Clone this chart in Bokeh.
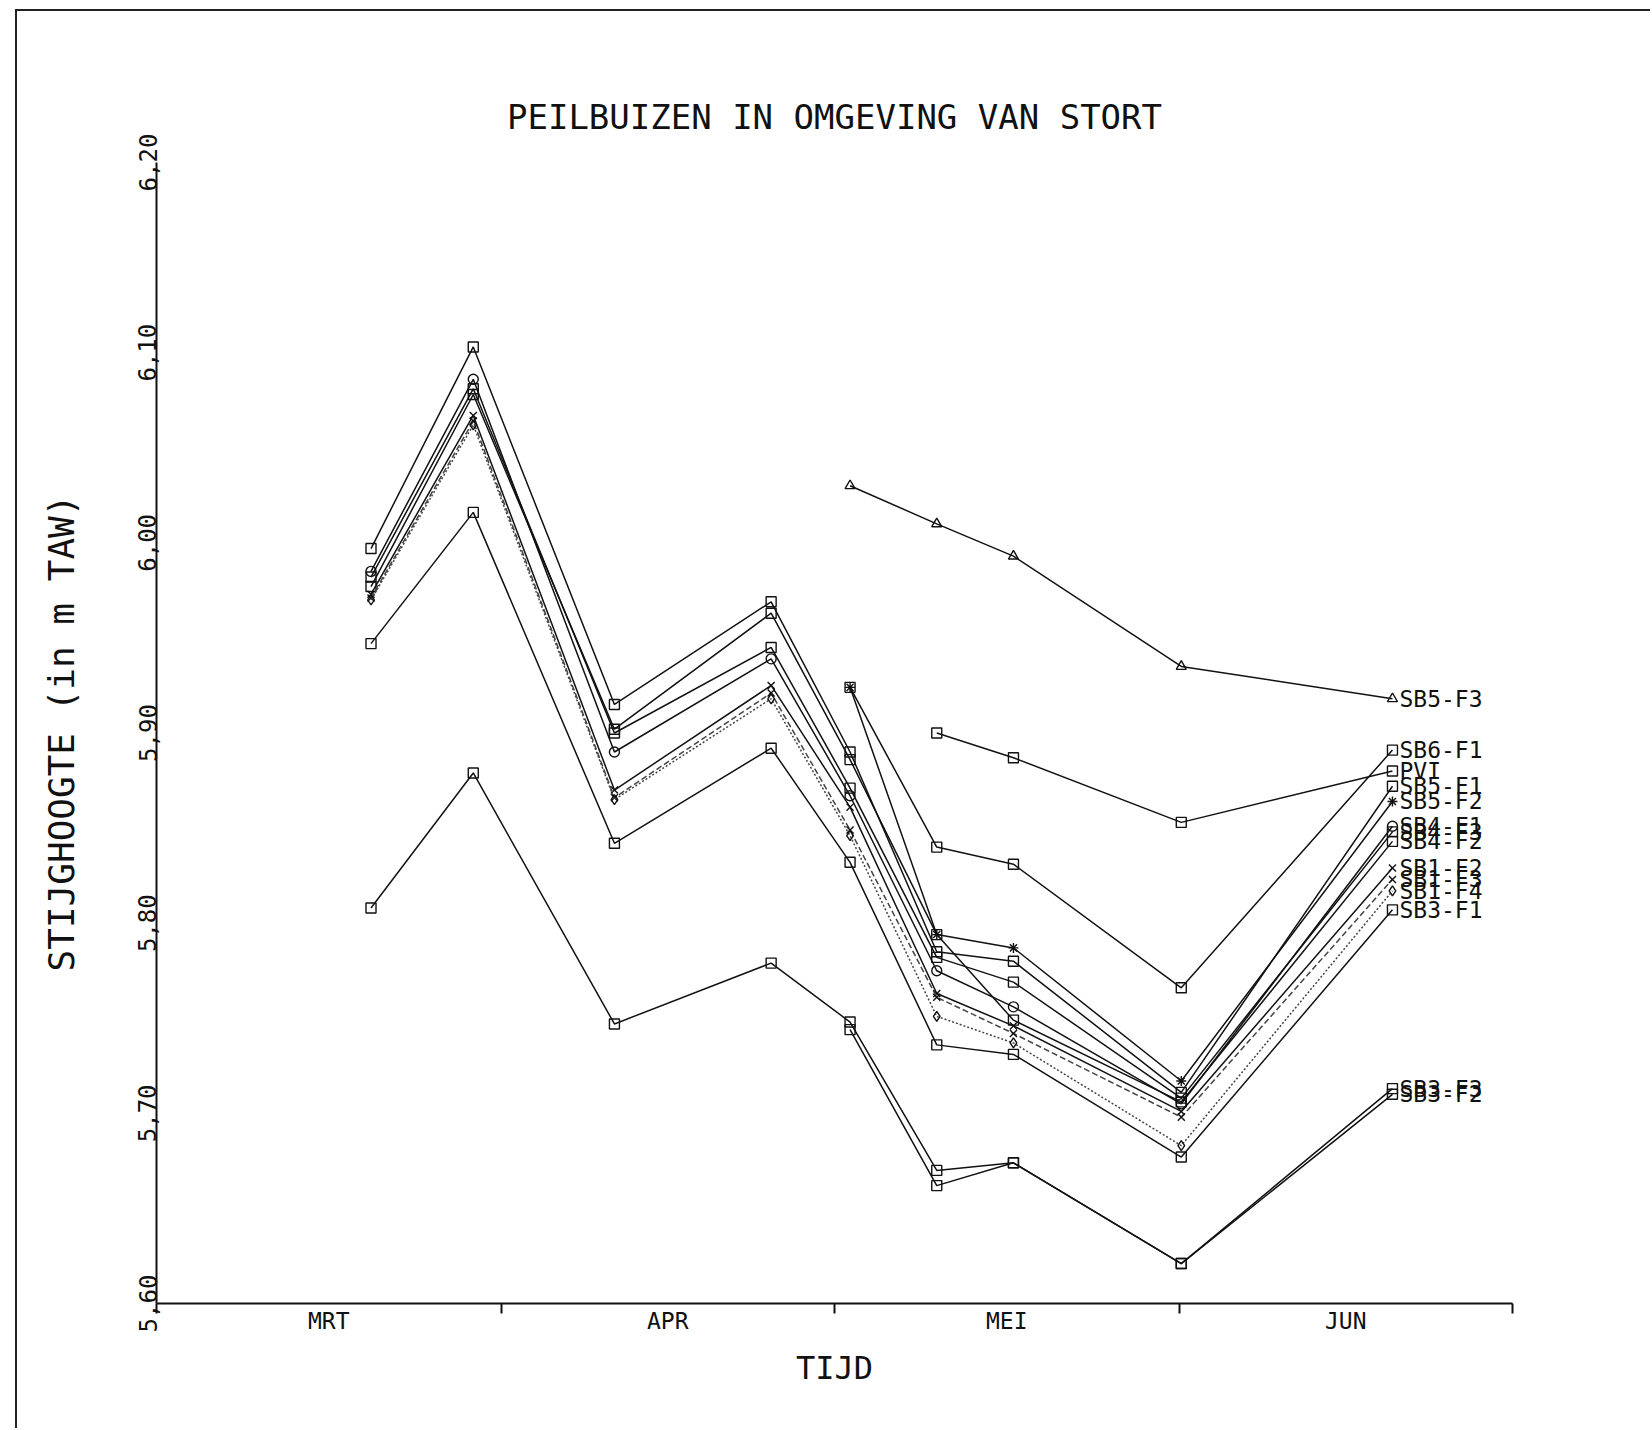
from bokeh.plotting import figure
from bokeh.models import FixedTicker
from bokeh.embed import file_html
from bokeh.resources import INLINE
from bokeh.core.properties import value

# measurement dates, as days since 1 March
days = [19.3, 28.5, 41.2, 55.3, 62.4, 70.2, 77.1, 92.2, 111.2]

month_names = ["MRT", "APR", "MEI", "JUN"]
month_mid = [15.5, 46.0, 76.5, 107.0]
month_edges = [0, 31, 61, 92, 122]

y_ticks = [5.6, 5.7, 5.8, 5.9, 6.0, 6.1, 6.2]
y_tick_labels = ["5,60", "5,70", "5,80", "5,90", "6,00", "6,10", "6,20"]

# water levels (m TAW); None = no measurement
SB5_F3 = [None, None, None, None, 6.030, 6.010, 5.993, 5.935, 5.918]
SB6_F1 = [None, None, None, None, 5.924, 5.840, 5.831, 5.766, 5.891]
PVI    = [None, None, None, None, None, 5.900, 5.887, 5.853, 5.880]
SB5_F1 = [5.997, 6.103, 5.915, 5.969, 5.890, 5.785, 5.780, 5.711, 5.872]
SB5_F2 = [None, None, None, None, 5.924, 5.794, 5.787, 5.717, 5.864]
SB4_F1 = [5.985, 6.086, 5.890, 5.939, 5.867, 5.775, 5.756, 5.705, 5.851]
SB4_F3 = [5.982, 6.081, 5.900, 5.945, 5.871, 5.782, 5.769, 5.708, 5.848]
SB4_F2 = [5.977, 6.078, 5.902, 5.963, 5.886, 5.794, 5.749, 5.706, 5.843]
SB1_F2 = [5.973, 6.067, 5.870, 5.925, 5.861, 5.763, 5.746, 5.701, 5.829]
SB1_F3 = [5.971, 6.064, 5.866, 5.921, 5.849, 5.761, 5.742, 5.698, 5.823]
SB1_F4 = [5.970, 6.062, 5.865, 5.918, 5.846, 5.751, 5.737, 5.683, 5.817]
SB3_F1 = [5.947, 6.016, 5.842, 5.892, 5.832, 5.736, 5.731, 5.677, 5.807]
SB3_F3 = [5.808, 5.879, 5.747, 5.779, 5.748, 5.670, 5.674, 5.621, 5.713]
SB3_F2 = [None, None, None, None, 5.744, 5.662, 5.674, 5.621, 5.710]

series_names = ["SB5-F3", "SB6-F1", "PVI", "SB5-F1", "SB5-F2", "SB4-F1", "SB4-F3",
                "SB4-F2", "SB1-F2", "SB1-F3", "SB1-F4", "SB3-F1", "SB3-F3", "SB3-F2"]
series_values = [SB5_F3, SB6_F1, PVI, SB5_F1, SB5_F2, SB4_F1, SB4_F3,
                 SB4_F2, SB1_F2, SB1_F3, SB1_F4, SB3_F1, SB3_F3, SB3_F2]
series_markers = ["triangle", "square", "square", "square", "asterisk", "circle", "square",
                  "square", "x", "x", "diamond", "square", "square", "square"]
series_dash = ["solid", "solid", "solid", "solid", "solid", "solid", "solid",
               "solid", "solid", "6 3", "2 2", "solid", "solid", "solid"]

FONT = "DejaVu Sans Mono"

p = figure(width=1635, height=1419, x_range=(0, 122), y_range=(5.6, 6.2),
           output_backend="svg", toolbar_location=None,
           min_border_left=139, min_border_right=140, min_border_top=151, min_border_bottom=127,
           title="PEILBUIZEN IN OMGEVING VAN STORT")
p.styles = {"border-left": "2px solid #222", "border-top": "2px solid #222",
            "margin-left": "15px", "margin-top": "9px"}

p.title.align = "center"
p.title.text_font = FONT
p.title.text_font_size = "34px"
p.title.text_font_style = "normal"
p.title.text_color = "#111"
p.title.standoff = 51

p.xgrid.visible = False
p.ygrid.visible = False
p.outline_line_color = None

# x axis
p.xaxis.ticker = FixedTicker(ticks=month_mid, minor_ticks=month_edges)
p.xaxis.major_label_overrides = dict(zip(month_mid, month_names))
p.xaxis.major_tick_out = 0
p.xaxis.major_tick_in = 0
p.xaxis.minor_tick_out = 10
p.xaxis.minor_tick_in = 0
p.xaxis.minor_tick_line_width = 2
p.xaxis.minor_tick_line_color = "#111"
p.xaxis.axis_line_width = 2
p.xaxis.axis_line_color = "#111"
p.xaxis.major_label_standoff = -6
p.xaxis.major_label_text_font = FONT
p.xaxis.major_label_text_font_size = "23px"
p.xaxis.major_label_text_color = "#111"
p.xaxis.axis_label = "TIJD"
p.xaxis.axis_label_text_font = FONT
p.xaxis.axis_label_text_font_size = "32px"
p.xaxis.axis_label_text_font_style = "normal"
p.xaxis.axis_label_text_color = "#111"
p.xaxis.axis_label_standoff = 12

# y axis
p.yaxis.ticker = FixedTicker(ticks=y_ticks, minor_ticks=[])
p.yaxis.major_label_overrides = dict(zip(y_ticks, y_tick_labels))
p.yaxis.major_label_orientation = "vertical"
p.yaxis.major_tick_out = 0
p.yaxis.major_tick_in = 0
p.yaxis.minor_tick_out = 0
p.yaxis.minor_tick_in = 0
p.yaxis.axis_line_width = 2
p.yaxis.axis_line_color = "#111"
p.yaxis.major_label_standoff = 0
p.yaxis.major_label_text_font = FONT
p.yaxis.major_label_text_font_size = "24px"
p.yaxis.major_label_text_color = "#111"
p.yaxis.axis_label = "STIJGHOOGTE (in m TAW)"
p.yaxis.axis_label_text_font = FONT
p.yaxis.axis_label_text_font_size = "36px"
p.yaxis.axis_label_text_font_style = "normal"
p.yaxis.axis_label_text_color = "#111"
p.yaxis.axis_label_standoff = 54

for name, vals, mk, dash in zip(series_names, series_values, series_markers, series_dash):
    xs = [d for d, v in zip(days, vals) if v is not None]
    ys = [v for v in vals if v is not None]
    col = "#111" if dash == "solid" else "#444"
    p.line(xs, ys, line_color=col, line_width=1.5, line_dash=dash)
    p.scatter(xs, ys, marker=mk, size=10, fill_color=None, line_color="#111", line_width=1.4)
    p.text(x=[xs[-1]], y=[ys[-1]], text=[name], x_offset=7, text_baseline="middle",
           text_align="left", text_font=value(FONT), text_font_size="23px", text_color="#111")

open("out.html", "w").write(file_html(p, INLINE))
